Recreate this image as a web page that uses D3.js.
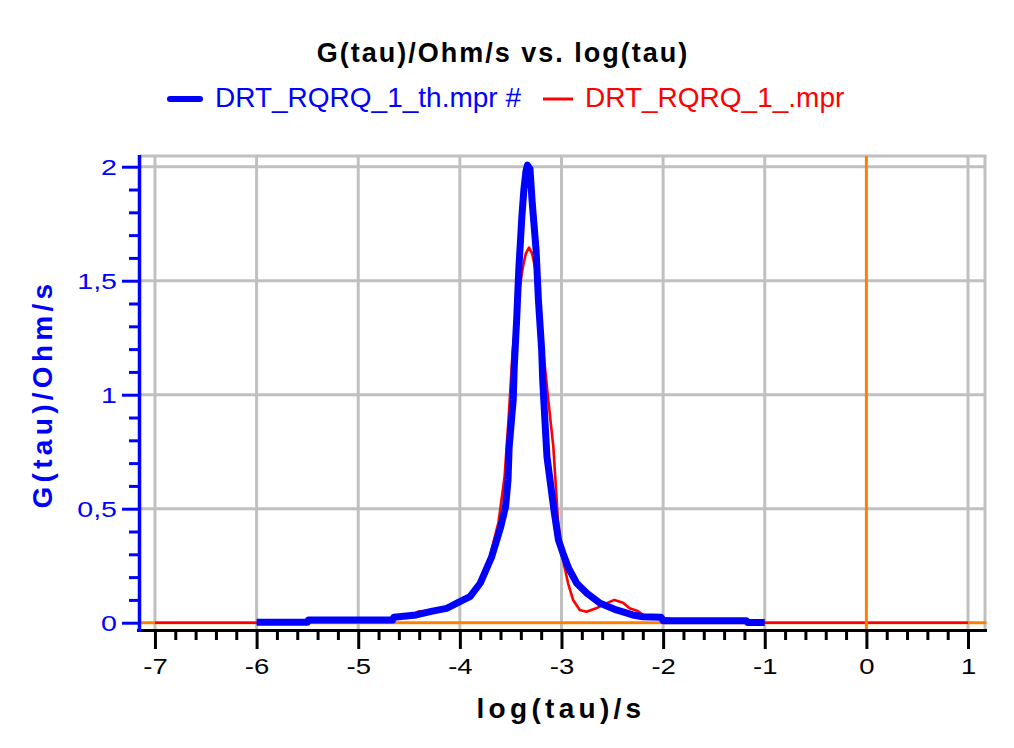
<!DOCTYPE html>
<html>
<head>
<meta charset="utf-8">
<script src="https://cdn.jsdelivr.net/npm/d3@7"></script>
<style>
  html, body { margin: 0; padding: 0; background: #fff; }
  svg { display: block; font-family: "Liberation Sans", Arial, sans-serif; }
</style>
</head>
<body>
<svg id="chart" width="1014" height="748"></svg>
<script>
// ---- data ----
const titleText = "G(tau)/Ohm/s vs. log(tau)";
const xLabel = "log(tau)/s";
const yLabel = "G(tau)/Ohm/s";
const seriesNames = ["DRT_RQRQ_1_th.mpr #", "DRT_RQRQ_1_.mpr"];

const xTicks = [-7, -6, -5, -4, -3, -2, -1, 0, 1];
const xTickLabels = ["-7", "-6", "-5", "-4", "-3", "-2", "-1", "0", "1"];
const yTicks = [0, 0.5, 1, 1.5, 2];
const yTickLabels = ["0", "0,5", "1", "1,5", "2"];

const thLogTau = [-6.00, -5.50, -5.49, -4.66, -4.65, -4.43, -4.27, -4.13, -4.00, -3.90, -3.80, -3.765, -3.686,
  -3.598, -3.55, -3.526, -3.515, -3.475, -3.465, -3.44, -3.42, -3.39, -3.37, -3.35, -3.335, -3.31, -3.29,
  -3.25, -3.227, -3.195, -3.185, -3.167, -3.143, -3.07, -3.03, -2.985, -2.93, -2.85, -2.75, -2.62, -2.46,
  -2.30, -2.20, -2.02, -2.00, -1.18, -1.17, -1.00];
const thG = [0.002, 0.002, 0.012, 0.012, 0.024, 0.034, 0.051, 0.063, 0.092, 0.114, 0.173, 0.209, 0.29,
  0.42, 0.51, 0.626, 0.77, 0.977, 1.12, 1.34, 1.55, 1.78, 1.90, 1.98, 2.007, 1.99, 1.854,
  1.635, 1.415, 1.196, 1.065, 0.918, 0.728, 0.48, 0.363, 0.304, 0.239, 0.173, 0.129, 0.085, 0.056,
  0.034, 0.026, 0.024, 0.009, 0.009, 0.001, 0.001];

const expLogTau = [-7.00, -6.00, -5.50, -5.00, -4.70, -4.50, -4.40, -4.30, -4.20, -4.10, -4.00, -3.90, -3.80,
  -3.75, -3.70, -3.62, -3.56, -3.52, -3.48, -3.43, -3.38, -3.35, -3.32, -3.29, -3.26, -3.21, -3.18,
  -3.13, -3.08, -3.035, -2.985, -2.935, -2.886, -2.82, -2.755, -2.66, -2.56, -2.48, -2.395, -2.33,
  -2.25, -2.17, -2.00, -1.80, -1.50, -1.00, 1.00];
const expG = [0, 0, 0.005, 0.01, 0.018, 0.03, 0.05, 0.052, 0.055, 0.065, 0.085, 0.114, 0.17,
  0.215, 0.30, 0.44, 0.64, 0.90, 1.196, 1.415, 1.56, 1.62, 1.645, 1.62, 1.56, 1.37, 1.196,
  0.977, 0.77, 0.45, 0.275, 0.173, 0.10, 0.056, 0.048, 0.063, 0.085, 0.10, 0.088, 0.063,
  0.051, 0.026, 0.02, 0.01, 0.005, 0, 0];

// ---- layout ----
const svg = d3.select("#chart");
const L = 139, R = 985, T = 156, B = 630;
const x = d3.scaleLinear().domain([-7.157, 1.167]).range([L, R]);
const y = d3.scaleLinear().domain([-0.032, 2.047]).range([B, T]);

const grey = "#c0c0c0", orange = "#ff8000", blue = "#0000ff", red = "#ff0000";

// grid
const grid = svg.append("g");
grid.selectAll("line.vg").data(xTicks.filter(d => d !== 0)).join("line")
  .attr("x1", d => x(d)).attr("x2", d => x(d)).attr("y1", T).attr("y2", B)
  .attr("stroke", grey).attr("stroke-width", 3);
grid.selectAll("line.hg").data(yTicks.filter(d => d !== 0)).join("line")
  .attr("x1", L).attr("x2", R).attr("y1", d => y(d)).attr("y2", d => y(d))
  .attr("stroke", grey).attr("stroke-width", 3);
// frame top/right
grid.append("line").attr("x1", L).attr("x2", R + 1.5).attr("y1", T).attr("y2", T).attr("stroke", grey).attr("stroke-width", 3);
grid.append("line").attr("x1", R).attr("x2", R).attr("y1", T).attr("y2", B).attr("stroke", grey).attr("stroke-width", 3);

// zero lines
svg.append("line").attr("x1", L).attr("x2", R + 1.5).attr("y1", y(0)).attr("y2", y(0))
  .attr("stroke", orange).attr("stroke-width", 3);

// data
const line = d3.line().x(d => x(d[0])).y(d => y(d[1]));
const expData = expLogTau.map((v, i) => [v, expG[i]]);
const thData = thLogTau.map((v, i) => [v, thG[i]]);
svg.append("path").datum(expData).attr("d", line).attr("fill", "none")
  .attr("stroke", red).attr("stroke-width", 2.6).attr("stroke-linejoin", "round");
svg.append("path").datum(thData).attr("d", line).attr("fill", "none")
  .attr("stroke", blue).attr("stroke-width", 7).attr("stroke-linejoin", "round");

svg.append("line").attr("x1", x(0)).attr("x2", x(0)).attr("y1", T).attr("y2", B + 3)
  .attr("stroke", orange).attr("stroke-width", 3);

// x axis
const xMinor = d3.range(-7, 1.0001, 0.2).map(v => +v.toFixed(2)).filter(v => Math.abs(v - Math.round(v)) > 1e-6);
const xAxisMinor = d3.axisBottom(x).tickValues(xMinor).tickSize(10).tickFormat("");
const xAxis = d3.axisBottom(x).tickValues(xTicks).tickSize(19).tickPadding(6)
  .tickFormat((d, i) => xTickLabels[i]);
const gxm = svg.append("g").attr("transform", `translate(0,${B})`).call(xAxisMinor);
const gx = svg.append("g").attr("transform", `translate(0,${B})`).call(xAxis);
[gx, gxm].forEach(g => {
  g.select(".domain").remove();
  g.selectAll(".tick line").attr("stroke", "#000").attr("stroke-width", 3);
});
gx.selectAll(".tick text").attr("fill", "#000").attr("font-size", 22)
  .attr("font-family", "'Liberation Sans', Arial, sans-serif")
  .attr("y", null).attr("dy", null).attr("transform", "translate(0,43.5) scale(1.25,1)");
svg.append("line").attr("x1", L - 2).attr("x2", R + 2).attr("y1", B + 0.5).attr("y2", B + 0.5)
  .attr("stroke", "#000").attr("stroke-width", 3);

// y axis
const yMinor = d3.range(0, 2.0001, 0.1).map(v => +v.toFixed(2)).filter(v => Math.abs(v * 2 - Math.round(v * 2)) > 1e-6);
const yAxisMinor = d3.axisLeft(y).tickValues(yMinor).tickSize(10).tickFormat("");
const yAxis = d3.axisLeft(y).tickValues(yTicks).tickSize(17)
  .tickFormat((d, i) => yTickLabels[i]);
const gym = svg.append("g").attr("transform", `translate(${L},0)`).call(yAxisMinor);
const gy = svg.append("g").attr("transform", `translate(${L},0)`).call(yAxis);
[gy, gym].forEach(g => {
  g.select(".domain").remove();
  g.selectAll(".tick line").attr("stroke", blue).attr("stroke-width", 3);
});
gy.selectAll(".tick text").attr("fill", blue).attr("font-size", 22)
  .attr("font-family", "'Liberation Sans', Arial, sans-serif")
  .attr("x", null).attr("dy", "0.35em").attr("text-anchor", "end")
  .attr("transform", "translate(-22,0) scale(1.3,1)");
svg.append("line").attr("x1", L + 0.5).attr("x2", L + 0.5).attr("y1", T - 1).attr("y2", B + 2)
  .attr("stroke", blue).attr("stroke-width", 3.5);

// title
svg.append("text").attr("x", 503).attr("y", 62).attr("text-anchor", "middle")
  .attr("font-size", 27).attr("font-weight", "bold").attr("letter-spacing", "2px")
  .attr("fill", "#000").text(titleText);

// legend
svg.append("line").attr("x1", 170).attr("x2", 200).attr("y1", 99).attr("y2", 99)
  .attr("stroke", blue).attr("stroke-width", 6).attr("stroke-linecap", "round");
svg.append("text").attr("x", 215).attr("y", 107).attr("font-size", 28).attr("fill", blue).text(seriesNames[0]);
svg.append("line").attr("x1", 543).attr("x2", 573).attr("y1", 99).attr("y2", 99)
  .attr("stroke", red).attr("stroke-width", 3);
svg.append("text").attr("x", 585).attr("y", 107).attr("font-size", 28).attr("fill", red).text(seriesNames[1]);

// axis titles
svg.append("text").attr("x", 561).attr("y", 718).attr("text-anchor", "middle")
  .attr("font-size", 28).attr("font-weight", "bold").attr("letter-spacing", "4.3px")
  .attr("fill", "#000").text(xLabel);
svg.append("text").attr("transform", "translate(51.5,394) rotate(-90)").attr("text-anchor", "middle")
  .attr("font-size", 28).attr("font-weight", "bold").attr("letter-spacing", "4.3px")
  .attr("fill", blue).text(yLabel);
</script>
</body>
</html>
